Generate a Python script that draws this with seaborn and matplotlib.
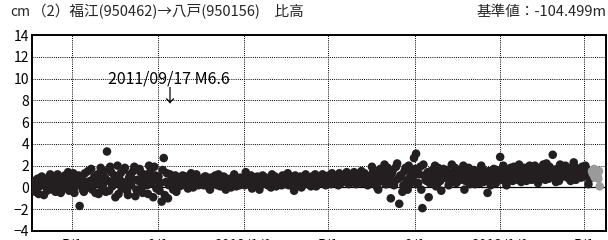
import matplotlib
matplotlib.use("Agg")
import matplotlib.pyplot as plt
import seaborn as sns
import numpy as np
import pandas as pd

# daily solutions, two interleaved runs every 3 days (cm)
step_days = 3
start_a = "2011-03-07"
values_a = [
    0.3, -0.4, 0.8, 0.1, 1.0, -0.7, 0.5, 0.2, 1.2, -0.2,
    0.6, 0.0, 0.9, -0.5, 0.4, 1.1, 0.2, -0.3, 0.7, 1.3,
    0.1, 0.5, -1.7, 0.9, -0.4, 0.3, 1.5, 0.6, -0.2, 1.0,
    0.4, -0.6, 1.8, 0.2, 0.9, 3.3, -0.3, 1.4, 0.5, -0.9,
    2.0, 0.7, -0.1, 1.6, 0.3, -0.7, 1.2, 0.8, 1.9, -0.2,
    0.6, 1.4, -0.5, 1.0, 0.2, 2.0, 0.4, -0.9, 1.1, 0.6,
    -0.3, -1.3, 2.7, 0.5, -1.0, 1.2, 0.3, 0.8, -0.4, 0.9,
    0.5, 1.1, 0.2, 0.7, 0.4, 1.3, 0.0, 0.6, 0.9, 0.3,
    0.7, 0.2, 1.0, 0.5, -0.2, 0.8, 0.4, 0.6, 1.2, 0.1,
    0.5, 0.9, 0.3, 0.7, 0.0, 0.6, 1.0, 0.4, 0.2, 0.8,
    0.5, 1.4, 0.3, 0.6, -0.1, 0.9, 0.4, 0.7, 0.2, 1.1,
    0.6, 0.3, 0.8, 0.0, 0.5, 1.0, 0.4, 0.7, 0.2, 0.9,
    0.5, 1.3, 0.3, 0.6, -0.3, 0.8, 0.4, 1.0, 0.2, 0.7,
    0.5, 0.9, 0.1, 0.6, 1.2, 0.3, 0.8, 0.4, 1.0, 0.2,
    0.7, 0.5, 1.3, 0.4, 0.9, 0.2, 1.1, 0.6, 0.8, 1.4,
    0.3, 1.0, 0.7, 1.2, 0.4, 0.9, 1.5, 0.6, 1.1, 0.2,
    1.0, 1.9, 0.5, 1.3, -0.2, 1.7, 0.8, 2.1, 0.3, 1.2,
    -1.0, 1.6, 0.6, 2.2, -1.5, 1.0, 0.2, 1.8, -0.2, 0.9,
    1.4, 2.7, 3.1, 0.4, 1.9, -1.9, 1.1, 0.6, -0.9, 1.5,
    0.8, 2.0, 0.3, 1.2, -0.3, 1.7, 0.9, 1.4, 0.5, 2.1,
    1.0, 0.4, 1.6, 0.7, 1.3, -0.2, 1.0, 1.8, 0.6, 1.2,
    0.3, 1.5, 0.9, 2.0, 0.5, 1.1, -0.5, 1.4, 0.8, 1.7,
    0.4, 1.2, 2.8, 0.7, 1.5, 0.2, 1.0, 1.8, 0.6, 1.4,
    1.1, 2.1, 0.5, 1.6, 0.9, 1.3, 2.0, 0.7, 1.5, 1.2,
    0.4, 1.8, 1.0, 1.6, 2.2, 0.8, 1.4, 3.0, 1.1, 1.7,
    0.6, 1.9, 1.3, 2.0, 0.9, 1.5, 1.2, 2.3, 0.7, 1.6,
    1.4, 1.9, 1.0, 1.7, 0.3,
]
start_b = "2011-03-08 12:00"
values_b = [
    0.6, 0.0, -0.6, 0.9, 0.4, 0.2, -0.3, 1.0, 0.5, 0.8,
    -0.4, 1.2, 0.3, 0.7, -0.1, 0.6, 1.4, 0.1, 0.9, -0.5,
    0.7, 1.1, 0.2, -0.2, 1.3, 0.5, 0.0, 1.7, 0.4, -0.5,
    1.2, 0.8, -0.2, 1.5, -0.4, 0.6, 1.9, 0.1, 1.1, 0.4,
    -0.6, 1.3, 0.5, 1.8, -0.3, 0.9, 0.2, 1.5, -0.8, 0.7,
    1.7, 0.0, 1.2, 0.5, -0.6, 1.4, 0.8, 1.9, -0.1, 1.0,
    0.4, 1.6, -0.7, 1.3, 0.2, 0.6, -0.2, 1.1, 0.5, 0.1,
    0.8, 0.3, 1.0, -0.1, 0.6, 0.9, 0.4, 1.2, 0.2, 0.7,
    0.3, 1.0, 0.6, 0.0, 0.9, 0.5, 1.1, 0.2, 0.7, 0.4,
    1.0, -0.2, 0.6, 0.8, 0.3, 1.2, 0.1, 0.7, 0.9, 0.4,
    0.2, 0.8, 0.6, 1.1, 0.3, 0.5, 1.0, -0.2, 0.7, 0.4,
    0.9, 0.2, 0.6, 1.2, 0.4, 0.1, 0.8, 0.5, 1.1, 0.3,
    0.7, 0.2, 0.9, 0.5, 1.1, 0.3, 0.6, 0.0, 0.8, 1.2,
    0.3, 0.6, 1.0, 0.4, 0.1, 0.9, 0.5, 1.2, 0.6, 0.8,
    1.1, 0.3, 0.7, 1.0, 0.5, 1.3, 0.4, 0.9, 1.2, 0.6,
    1.0, 0.5, 1.4, 0.3, 0.8, 1.1, 0.4, 1.3, 0.7, 1.0,
    0.4, 1.4, 0.9, 0.0, 1.6, 0.6, 1.2, 0.3, 1.8, 0.7,
    1.3, 0.2, 1.9, 0.8, 1.1, -0.4, 1.5, 0.6, 2.0, 0.4,
    0.9, 1.7, 0.3, 1.2, -0.2, 2.1, 0.7, 1.4, 0.4, 1.0,
    1.5, 0.1, 1.8, 0.6, 1.1, 0.9, 1.6, 0.2, 1.3, 0.7,
    1.8, 0.5, 1.2, 0.9, 2.0, 0.6, 1.4, 0.3, 1.1, 1.6,
    0.8, 1.3, 0.4, 1.7, 1.0, 0.6, 1.5, 0.2, 1.2, 0.9,
    1.6, 0.8, 1.3, 2.0, 0.5, 1.1, 1.5, 0.9, 1.9, 1.2,
    0.7, 1.5, 1.2, 1.8, 0.6, 1.7, 1.0, 1.4, 2.0, 0.9,
    1.5, 1.1, 2.1, 0.7, 1.3, 1.9, 1.0, 1.6, 0.5, 1.4,
    2.1, 1.0, 1.7, 1.2, 1.8, 0.6, 1.4, 1.9, 1.1, 1.5,
    0.9, 1.6, 2.0, 1.2, 0.8,
]
# rapid (preliminary) solutions at the end, drawn in grey
start_rapid = "2013-05-12"
values_rapid = [1.5, 1.3, 1.2, 1.7, 0.9, 1.0, 1.6, 1.4, 1.1, 0.8, 1.5, 0.1]

tick_dates = ["2011-05-01", "2011-09-01", "2012-01-01", "2012-05-01",
              "2012-09-01", "2013-01-01", "2013-05-01"]
tick_labels = ["5/1", "9/1", "2012/1/1", "5/1", "9/1", "2013/1/1", "5/1"]
y_ticks = [14, 12, 10, 8, 6, 4, 2, 0, -2, -4]

title_left = "（2）福江(950462)→八戸(950156)　比高"
title_right = "基準値：-104.499m"
event_label = "2011/09/17 M6.6"
event_date = "2011-09-17"

df = pd.concat([
    pd.DataFrame({"date": pd.date_range(start_a, periods=len(values_a), freq=f"{step_days}D"),
                  "value": values_a, "kind": "final"}),
    pd.DataFrame({"date": pd.date_range(start_b, periods=len(values_b), freq=f"{step_days}D"),
                  "value": values_b, "kind": "final"}),
    pd.DataFrame({"date": pd.date_range(start_rapid, periods=len(values_rapid), freq="1D"),
                  "value": values_rapid, "kind": "rapid"}),
], ignore_index=True)

sns.set_theme(style="white")
plt.rcParams['font.family'] = ['Noto Sans CJK JP', 'DejaVu Sans']

fig = plt.figure(figsize=(6.08, 2.40), dpi=100)
ax = fig.add_axes([32/608, 9/240, 574/608, 196/240])

sns.scatterplot(data=df, x="date", y="value", hue="kind",
                palette={"final": "#231f20", "rapid": "#9a9a9a"},
                s=38, linewidth=0, legend=False, ax=ax, zorder=3)

ax.set_xlim(pd.Timestamp("2011-03-05"), pd.Timestamp("2013-06-01"))
ax.set_ylim(-4, 14)
ax.set_yticks(y_ticks)
ax.set_xticks([pd.Timestamp(d) for d in tick_dates])
ax.set_xticklabels(tick_labels)
ax.tick_params(axis='both', length=0, labelsize=10, colors='black')
ax.tick_params(axis='y', pad=2)
ax.tick_params(axis='x', pad=5.5)
ax.set_xlabel('')
ax.set_ylabel('')

ax.grid(True, color='black', linestyle=(0, (1, 1.2)), linewidth=0.7, zorder=1)
ax.axhline(0, color='black', linewidth=0.9, zorder=2)
for sp in ax.spines.values():
    sp.set_color('black')
    sp.set_linewidth(1.4)

ev = pd.Timestamp(event_date)
ax.text(ev, 10.0, event_label, ha='center', va='center', fontsize=11.5, color='black')
ax.text(ev, 8.4, "↓", ha='center', va='center', fontsize=13, color='black')

fig.text(10/608, 1 - 12/240, "cm", ha='left', va='center', fontsize=10)
fig.text(32/608, 1 - 12/240, title_left, ha='left', va='center', fontsize=10.5)
fig.text(607/608, 1 - 12/240, title_right, ha='right', va='center', fontsize=10.5)

fig.savefig("out.png", dpi=100)
